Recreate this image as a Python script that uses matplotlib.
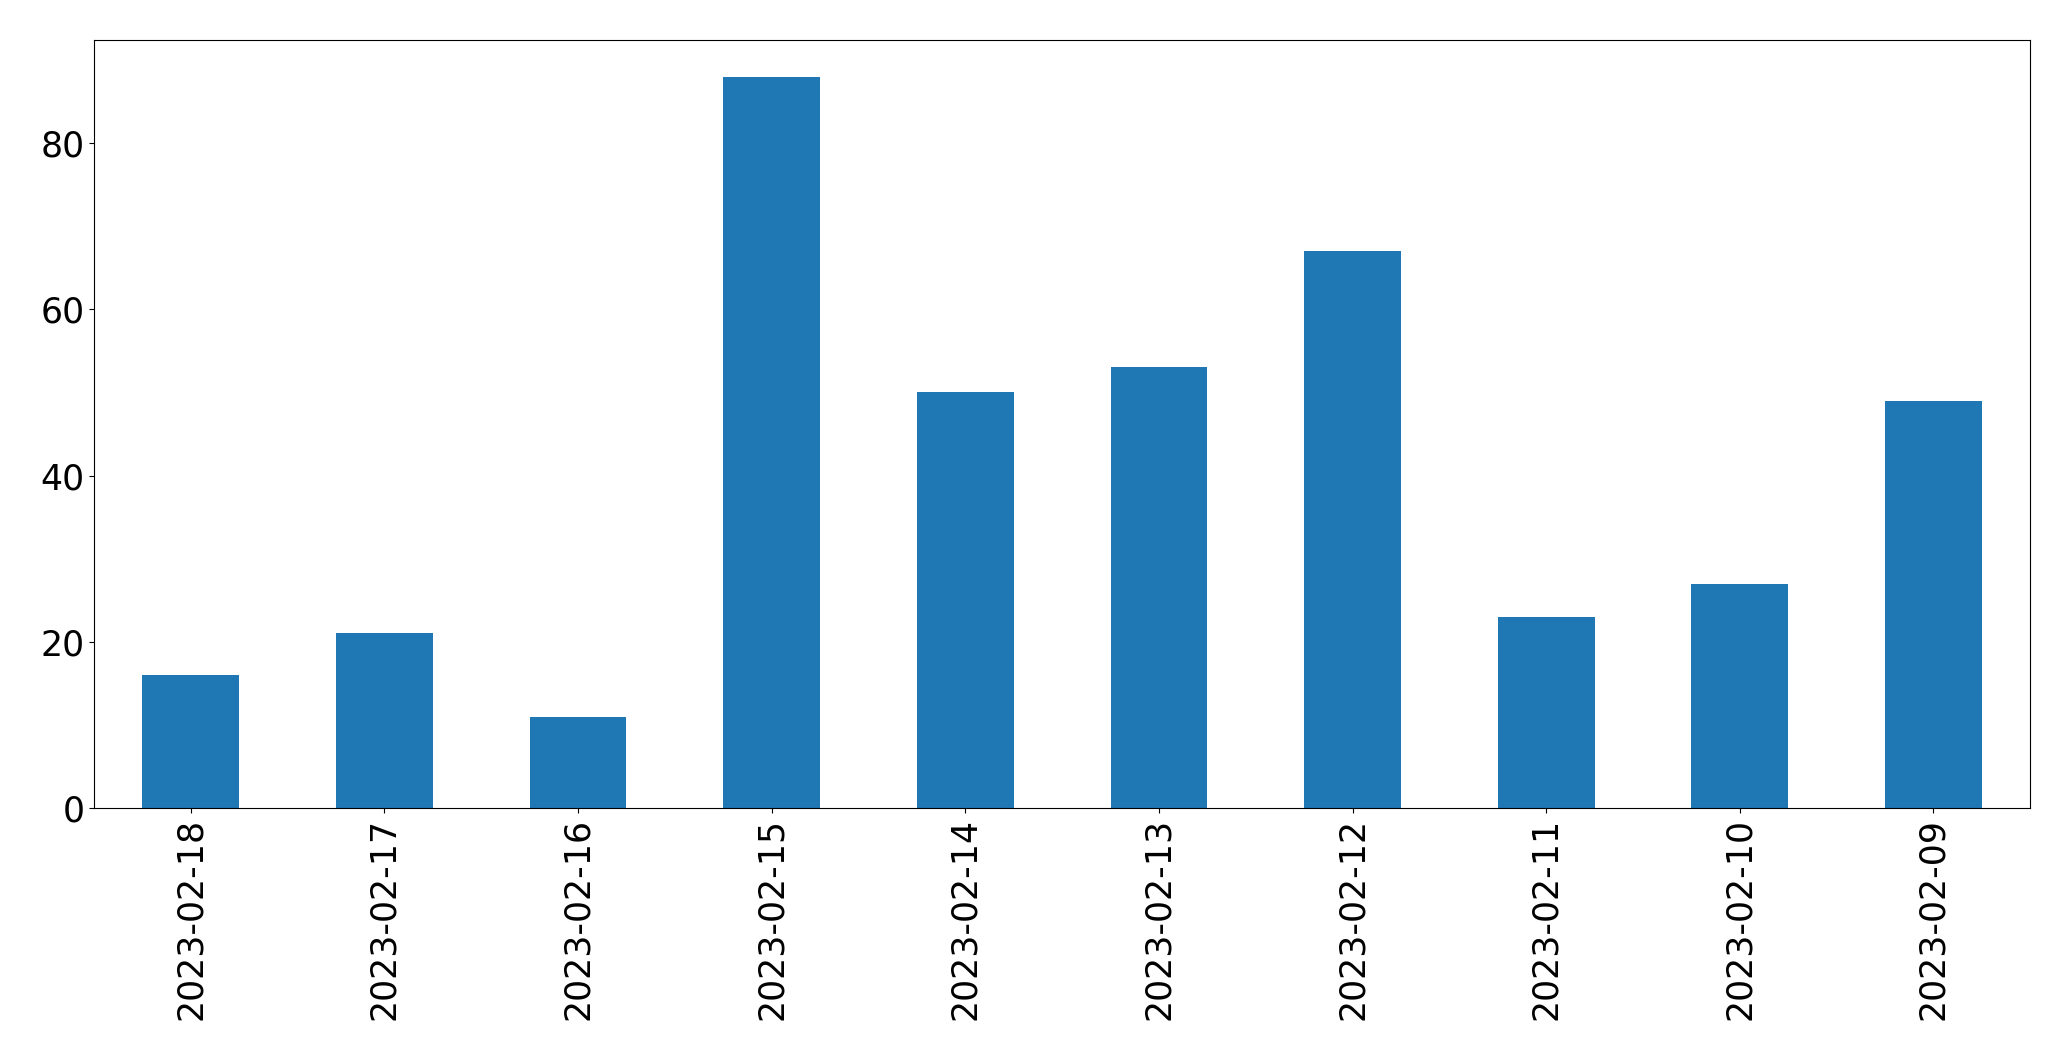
import matplotlib
matplotlib.use("Agg")
import matplotlib.pyplot as plt
import pandas as pd

# dates and counts
dates = ["2023-02-18", "2023-02-17", "2023-02-16", "2023-02-15", "2023-02-14",
         "2023-02-13", "2023-02-12", "2023-02-11", "2023-02-10", "2023-02-09"]
counts = [16, 21, 11, 88, 50, 53, 67, 23, 27, 49]

s = pd.Series(counts, index=dates)

fig = plt.figure(figsize=(20.71, 10.61), dpi=100)
ax = fig.add_axes([0.0454, 0.2385, 0.9349, 0.7238])
s.plot(kind="bar", ax=ax, color="#1f77b4")
ax.tick_params(axis="both", labelsize=25)
ax.set_xlabel("")

fig.savefig("out.png", dpi=100)
